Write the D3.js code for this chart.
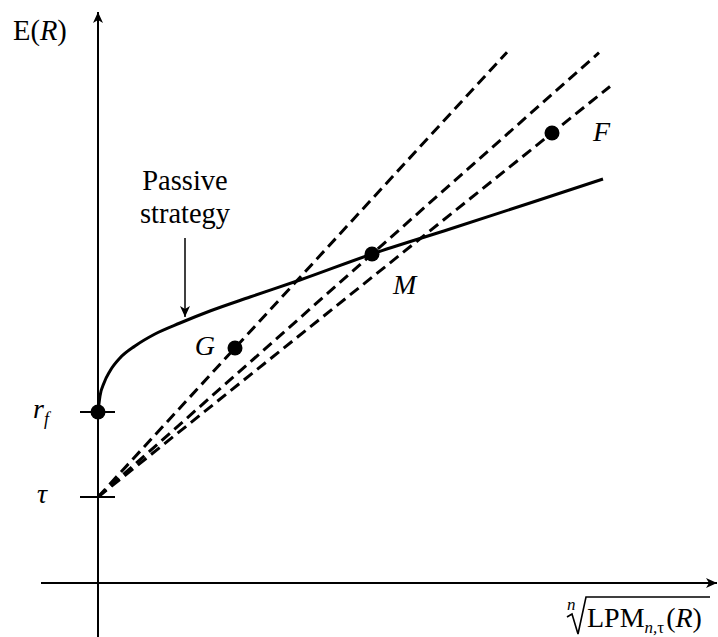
<!DOCTYPE html>
<html>
<head>
<meta charset="utf-8">
<script src="https://cdn.jsdelivr.net/npm/d3@7"></script>
<style>
  html, body { margin: 0; padding: 0; background: #fff; }
  svg { display: block; }
</style>
</head>
<body>
<svg id="chart"></svg>
<script>
const width = 718;
const height = 637;
const serif = "'Liberation Serif', 'Times New Roman', 'DejaVu Serif', serif";

// values (arbitrary units: x = downside risk, y = expected return)
const tau = [17.2];
const riskFree = [34.2];
const passiveX = [0, 0.4, 1.2, 2.4, 4.4, 7.4, 11.4, 16.4, 22.4, 30.4, 40.4, 54.8, 70.4, 86.4, 101];
const passiveY = [34.2, 37.4, 40.0, 42.4, 45.0, 47.4, 49.8, 52.0, 54.4, 57.2, 60.6, 65.8, 70.8, 76.0, 80.8];
const portfolioNames = ["G", "M", "F"];
const portfolioRisk = [27.4, 54.8, 90.8];
const portfolioReturn = [47.0, 65.8, 90.0];
const rayEndRisk = [81.8, 100.2, 102.4];

const svg = d3.select("#chart")
    .attr("width", width)
    .attr("height", height)
    .attr("font-family", serif)
    .style("font-family", serif);

const x = d3.scaleLinear().domain([0, 100]).range([98, 598]);
const y = d3.scaleLinear().domain([0, 100]).range([583, 83]);

// arrow heads
const defs = svg.append("defs");
defs.append("marker")
    .attr("id", "head")
    .attr("viewBox", "-12 -6 13 12")
    .attr("refX", 0)
    .attr("refY", 0)
    .attr("markerWidth", 13)
    .attr("markerHeight", 12)
    .attr("markerUnits", "userSpaceOnUse")
    .attr("orient", "auto")
    .append("path")
    .attr("d", "M0,0 L-11,-5 L-8,0 L-11,5 Z")
    .attr("fill", "#000");

// axes
svg.append("line")
    .attr("x1", x(0)).attr("x2", x(0))
    .attr("y1", height).attr("y2", 12)
    .attr("stroke", "#000").attr("stroke-width", 2)
    .attr("marker-end", "url(#head)");

svg.append("line")
    .attr("x1", 41).attr("x2", 717)
    .attr("y1", y(0)).attr("y2", y(0))
    .attr("stroke", "#000").attr("stroke-width", 2)
    .attr("marker-end", "url(#head)");

// ticks at tau and r_f
[tau[0], riskFree[0]].forEach(v => {
    svg.append("line")
        .attr("x1", x(0) - 18).attr("x2", x(0) + 17)
        .attr("y1", y(v)).attr("y2", y(v))
        .attr("stroke", "#000").attr("stroke-width", 2);
});

// dashed rays from tau through each portfolio
portfolioNames.forEach((name, i) => {
    const slope = (portfolioReturn[i] - tau[0]) / portfolioRisk[i];
    svg.append("line")
        .attr("x1", x(0)).attr("y1", y(tau[0]))
        .attr("x2", x(rayEndRisk[i]))
        .attr("y2", y(tau[0] + slope * rayEndRisk[i]))
        .attr("stroke", "#000")
        .attr("stroke-width", 3)
        .attr("stroke-dasharray", "11,6");
});

// passive strategy curve
const line = d3.line()
    .x(d => x(d[0]))
    .y(d => y(d[1]))
    .curve(d3.curveMonotoneX);

svg.append("path")
    .datum(d3.zip(passiveX, passiveY))
    .attr("d", line)
    .attr("fill", "none")
    .attr("stroke", "#000")
    .attr("stroke-width", 3);

// dots
svg.append("circle")
    .attr("cx", x(0)).attr("cy", y(riskFree[0]))
    .attr("r", 7.5).attr("fill", "#000");

svg.selectAll(".port")
    .data(portfolioNames)
    .enter().append("circle")
    .attr("class", "port")
    .attr("cx", (d, i) => x(portfolioRisk[i]))
    .attr("cy", (d, i) => y(portfolioReturn[i]))
    .attr("r", 7.5)
    .attr("fill", "#000");

// portfolio labels
const labelOffsets = { G: [-20, 7, "end"], M: [21, 40, "start"], F: [41, 8, "start"] };
svg.selectAll(".port-label")
    .data(portfolioNames)
    .enter().append("text")
    .attr("class", "port-label")
    .attr("x", (d, i) => x(portfolioRisk[i]) + labelOffsets[d][0])
    .attr("y", (d, i) => y(portfolioReturn[i]) + labelOffsets[d][1])
    .attr("text-anchor", d => labelOffsets[d][2])
    .style("font-size", "28px")
    .style("font-style", "italic")
    .text(d => d);

// axis labels
const yLab = svg.append("text")
    .attr("x", 13).attr("y", 40)
    .style("font-size", "28.5px");
yLab.append("tspan").text("E(");
yLab.append("tspan").style("font-style", "italic").text("R");
yLab.append("tspan").text(")");

const rfLab = svg.append("text")
    .attr("x", 33).attr("y", y(riskFree[0]) + 6)
    .style("font-size", "28px")
    .style("font-style", "italic");
rfLab.append("tspan").text("r");
rfLab.append("tspan").attr("dy", 7).style("font-size", "18px").text("f");

svg.append("text")
    .attr("x", 37).attr("y", y(tau[0]) + 6)
    .style("font-size", "28px")
    .style("font-style", "italic")
    .text("τ");

// x label: n-th root of LPM_{n,tau}(R)
svg.append("text")
    .attr("x", 567).attr("y", 610)
    .style("font-size", "17px")
    .style("font-style", "italic")
    .text("n");
svg.append("path")
    .attr("d", "M567,617 L572,614 L578,634 L586,597 L710,597")
    .attr("fill", "none")
    .attr("stroke", "#000")
    .attr("stroke-width", 1.6);
const xLab = svg.append("text")
    .attr("x", 587).attr("y", 627)
    .style("font-size", "28px");
xLab.append("tspan").text("LPM");
xLab.append("tspan")
    .attr("dy", 6)
    .style("font-size", "17px")
    .style("font-style", "italic")
    .text("n,");
xLab.append("tspan")
    .style("font-size", "17px")
    .text("τ");
xLab.append("tspan").attr("dy", -6).attr("dx", 2).text("(");
xLab.append("tspan").style("font-style", "italic").text("R");
xLab.append("tspan").text(")");

// passive strategy annotation
svg.append("text")
    .attr("text-anchor", "middle")
    .style("font-size", "28.5px")
    .selectAll("tspan")
    .data(["Passive", "strategy"])
    .enter().append("tspan")
    .attr("x", 185)
    .attr("y", (d, i) => 190 + i * 33)
    .text(d => d);

svg.append("line")
    .attr("x1", 185).attr("x2", 185)
    .attr("y1", 238).attr("y2", 317)
    .attr("stroke", "#000").attr("stroke-width", 1.5)
    .attr("marker-end", "url(#head)");
</script>
</body>
</html>
